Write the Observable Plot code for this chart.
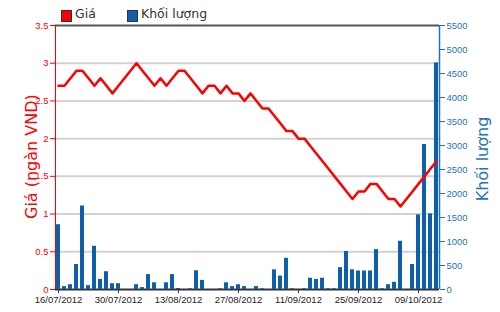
<!DOCTYPE html>
<html><head><meta charset="utf-8">
<script src="https://cdn.jsdelivr.net/npm/d3@7"></script>
<script src="https://cdn.jsdelivr.net/npm/@observablehq/plot@0.6"></script>
<style>
body{margin:0;background:#fff;}
#wrap{position:relative;width:500px;height:312px;overflow:hidden;font-family:"DejaVu Sans",sans-serif;}
#wrap svg{position:absolute;left:0;top:0;background:transparent;}
.lg{position:absolute;top:10px;width:9px;height:10px;border:1px solid #333;}
.lt{position:absolute;top:6px;font-size:12.5px;color:#333;line-height:16px;white-space:nowrap;}
.ttl{position:absolute;white-space:nowrap;font-size:16px;line-height:18px;transform-origin:center center;}
</style></head><body><div id="wrap"></div>
<script>
const dates = [
 "16/07/2012","17/07/2012","18/07/2012","19/07/2012","20/07/2012",
 "23/07/2012","24/07/2012","25/07/2012","26/07/2012","27/07/2012",
 "30/07/2012","31/07/2012","01/08/2012","02/08/2012","03/08/2012",
 "06/08/2012","07/08/2012","08/08/2012","09/08/2012","10/08/2012",
 "13/08/2012","14/08/2012","15/08/2012","16/08/2012","17/08/2012",
 "20/08/2012","21/08/2012","22/08/2012","23/08/2012","24/08/2012",
 "27/08/2012","28/08/2012","29/08/2012","30/08/2012","31/08/2012",
 "04/09/2012","05/09/2012","06/09/2012","07/09/2012",
 "10/09/2012","11/09/2012","12/09/2012","13/09/2012","14/09/2012",
 "17/09/2012","18/09/2012","19/09/2012","20/09/2012","21/09/2012",
 "24/09/2012","25/09/2012","26/09/2012","27/09/2012","28/09/2012",
 "01/10/2012","02/10/2012","03/10/2012","04/10/2012","05/10/2012",
 "08/10/2012","09/10/2012","10/10/2012","11/10/2012","12/10/2012"
];
const prices = [
 2.7,2.7,2.8,2.9,2.9, 2.8,2.7,2.8,2.7,2.6,
 2.7,2.8,2.9,3.0,2.9, 2.8,2.7,2.8,2.7,2.8,
 2.9,2.9,2.8,2.7,2.6, 2.7,2.7,2.6,2.7,2.6,
 2.6,2.5,2.6,2.5,2.4, 2.4,2.3,2.2,2.1,
 2.1,2.0,2.0,1.9,1.8, 1.7,1.6,1.5,1.4,1.3,
 1.2,1.3,1.3,1.4,1.4, 1.3,1.2,1.2,1.1,1.2,
 1.3,1.4,1.5,1.6,1.7
];
const volumes = [
 1350,60,100,520,1740, 80,900,210,370,120,
 120,0,0,100,40, 310,140,0,140,310,
 20,0,15,390,190, 0,0,15,140,60,
 100,60,0,60,15, 0,410,280,650,
 15,0,15,235,210, 235,15,15,455,790,
 410,385,385,385,830, 15,100,150,1005,0,
 520,1555,3020,1575,4720
];
const tickLabels = ["16/07/2012","30/07/2012","13/08/2012","27/08/2012","11/09/2012","25/09/2012","09/10/2012"];
const priceTicks = [0,0.5,1,1.5,2,2.5,3,3.5];
const volumeTicks = [0,500,1000,1500,2000,2500,3000,3500,4000,4500,5000,5500];

const RED = "#ff0000", BLUE = "#0d5fa9", AXBLUE = "#1f74b6";
const data = dates.map((d, i) => ({date: d, price: prices[i], volume: volumes[i]}));
const common = {width: 500, height: 312, marginLeft: 55, marginRight: 61, marginTop: 25, marginBottom: 23,
  style: {background: "transparent", fontFamily: "Liberation Sans, Arial, sans-serif", overflow: "visible"}};

const base = Plot.plot({...common,
  x: {type: "point", domain: dates, padding: 0.5},
  y: {domain: [0, 3.5]},
  marks: [
    Plot.gridY(priceTicks.filter(t => t > 0 && t < 3.5), {stroke: "#d2d2d2", strokeWidth: 2, strokeOpacity: 1}),
    Plot.ruleY([3.5], {stroke: "#555", strokeWidth: 2}),
    Plot.axisY({ticks: priceTicks, tickSize: 5, tickPadding: 2, tickFormat: d => String(d), color: RED, fontSize: 9.5}),
    Plot.ruleX([dates[0]], {dx: -3, stroke: RED, strokeWidth: 1}),
    Plot.axisX({ticks: tickLabels, tickSize: 4, tickPadding: 3, tickFormat: d => d, stroke: "#333", fill: "#222", fontSize: 9.5}),
    Plot.ruleY([0], {stroke: "#333", strokeWidth: 2})
  ]
});

const vol = Plot.plot({...common,
  x: {type: "band", domain: dates, paddingInner: 0.4, paddingOuter: 0.2, axis: null},
  y: {domain: [0, 5500]},
  marks: [
    Plot.barY(data, {x: "date", y: "volume", fill: BLUE}),
    Plot.axisY({anchor: "right", ticks: volumeTicks, tickSize: 5, tickPadding: 2, tickFormat: d => String(d), color: AXBLUE, fontSize: 9.5, label: null}),
    Plot.ruleX([dates[63]], {dx: 3, stroke: AXBLUE, strokeWidth: 1.5})
  ]
});
// ruleX on band scale: handled below if misplaced

const line = Plot.plot({...common,
  x: {type: "point", domain: dates, padding: 0.5, axis: null},
  y: {domain: [0, 3.5], axis: null},
  marks: [
    Plot.line(data, {x: "date", y: "price", stroke: RED, strokeWidth: 2.5, strokeLinejoin: "round"})
  ]
});

const wrap = document.getElementById("wrap");
wrap.append(base, vol, line);

const addDiv = (cls, css, text) => {
  const d = document.createElement("div");
  d.className = cls; d.style.cssText = css; if (text) d.textContent = text; wrap.append(d);
};
addDiv("lg", `left:61px;background:${RED};`);
addDiv("lt", "left:75px;", "Giá");
addDiv("lg", `left:127px;background:${BLUE};`);
addDiv("lt", "left:141px;", "Khối lượng");
addDiv("ttl", `left:-30px;top:148px;width:124px;text-align:center;color:${RED};transform:rotate(-90deg);`, "Giá (ngàn VND)");
addDiv("ttl", `left:436px;top:150px;width:94px;text-align:center;color:${AXBLUE};transform:rotate(-90deg);`, "Khối lượng");
</script>
</body></html>
